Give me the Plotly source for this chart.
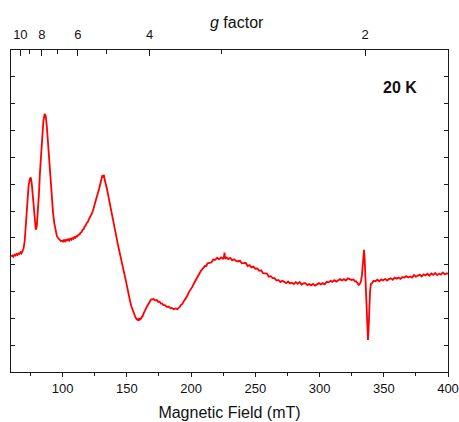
import plotly.graph_objects as go

# Magnetic field (mT) and EPR signal (arb. units, 0-12 scale)
field = [60.0, 60.8, 61.6, 62.4, 63.2, 64.0, 64.8, 65.6, 66.4, 67.2,
         68.0, 68.8, 69.6, 70.5, 71.5, 72.5, 73.5, 74.5, 75.2, 76.0,
         76.8, 77.6, 78.4, 79.1, 79.9, 80.7, 81.5, 82.3, 83.0, 84.0,
         85.0, 86.0, 86.8, 87.7, 88.5, 89.5, 90.5, 91.5, 92.5, 93.5,
         94.5, 95.5, 96.3, 97.1, 97.9, 98.7, 99.5, 100.3, 101.1, 101.9,
         102.7, 103.5, 104.3, 105.1, 105.9, 106.7, 107.5, 108.3, 109.1, 109.9,
         110.7, 111.5, 112.3, 113.1, 113.9, 114.7, 115.5, 116.3, 117.1, 117.9,
         118.7, 119.5, 120.3, 121.1, 121.9, 122.7, 123.5, 124.3, 125.1, 125.9,
         126.7, 127.6, 128.5, 129.3, 130.0, 130.8, 131.5, 132.1, 132.6, 133.2,
         133.8, 134.6, 135.4, 136.2, 137.0, 137.8, 138.5, 139.7, 140.9, 142.0,
         143.0, 144.0, 145.0, 146.0, 147.1, 148.0, 149.0, 150.0, 150.8, 151.7,
         152.6, 153.5, 154.5, 155.5, 156.5, 157.2, 157.8, 158.3, 158.8, 159.4,
         160.0, 160.5, 161.0, 161.6, 162.2, 163.0, 163.8, 164.8, 165.9, 166.8,
         167.8, 168.8, 169.8, 170.8, 172.0, 173.2, 174.5, 175.5, 176.5, 177.5,
         178.4, 179.6, 181.0, 182.4, 183.8, 185.0, 186.5, 187.9, 189.3, 190.3,
         191.3, 192.2, 193.2, 194.2, 195.2, 196.2, 197.1, 198.0, 199.0, 200.0,
         201.0, 202.0, 203.0, 204.0, 204.9, 205.8, 206.8, 207.8, 208.8, 209.8,
         210.8, 211.8, 212.8, 214.3, 215.8, 217.3, 218.8, 220.3, 221.8, 223.3,
         224.8, 225.6, 226.0, 226.5, 227.6, 229.0, 230.5, 232.0, 233.5, 235.0,
         236.5, 238.0, 239.5, 241.0, 242.5, 244.0, 245.5, 247.0, 248.5, 250.0,
         251.5, 253.0, 254.5, 256.0, 257.5, 259.0, 260.5, 262.0, 263.5, 265.0,
         266.5, 268.0, 269.5, 271.0, 272.5, 274.0, 275.5, 277.0, 278.5, 280.0,
         281.5, 283.0, 284.5, 286.0, 287.5, 289.0, 290.5, 292.0, 293.5, 295.0,
         296.5, 298.0, 299.5, 301.0, 302.5, 304.0, 305.5, 307.0, 308.5, 310.0,
         311.5, 313.0, 314.5, 316.0, 317.5, 319.0, 320.5, 322.0, 323.5, 325.0,
         326.5, 327.5, 328.5, 329.5, 330.5, 331.5, 332.3, 333.0, 333.8, 334.6,
         335.1, 335.6, 336.2, 336.8, 337.3, 337.7, 338.2, 338.7, 339.3, 340.0,
         341.0, 342.0, 343.5, 345.0, 346.5, 348.0, 349.5, 351.0, 352.5, 354.0,
         355.5, 357.0, 358.5, 360.0, 361.5, 363.0, 364.5, 366.0, 367.5, 369.0,
         370.5, 372.0, 373.5, 375.0, 376.5, 378.0, 379.5, 381.0, 382.5, 384.0,
         385.5, 387.0, 388.5, 390.0, 391.5, 393.0, 394.5, 396.0, 397.5, 399.0,
         400.0]
signal = [4.30, 4.34, 4.30, 4.37, 4.34, 4.40, 4.36, 4.42, 4.40, 4.46,
          4.42, 4.52, 4.60, 4.90, 5.60, 6.40, 6.95, 7.20, 7.25, 7.00,
          6.55, 5.90, 5.45, 5.30, 5.45, 5.90, 6.60, 7.40, 8.00, 8.80,
          9.35, 9.62, 9.55, 9.15, 8.60, 7.90, 7.15, 6.50, 5.95, 5.55,
          5.25, 5.07, 5.00, 4.95, 4.93, 4.88, 4.90, 4.86, 4.92, 4.87,
          4.93, 4.90, 4.95, 4.90, 4.97, 4.93, 4.99, 4.96, 5.03, 5.00,
          5.06, 5.05, 5.12, 5.12, 5.19, 5.21, 5.30, 5.32, 5.42, 5.45,
          5.55, 5.58, 5.68, 5.74, 5.84, 5.90, 6.00, 6.12, 6.24, 6.37,
          6.55, 6.70, 6.85, 7.05, 7.15, 7.30, 7.28, 7.35, 7.20, 7.10,
          6.95, 6.80, 6.60, 6.42, 6.20, 6.00, 5.80, 5.55, 5.25, 5.00,
          4.75, 4.55, 4.30, 4.12, 3.90, 3.70, 3.45, 3.22, 3.00, 2.82,
          2.62, 2.45, 2.30, 2.18, 2.06, 2.00, 1.94, 1.99, 1.91, 1.97,
          1.93, 2.01, 1.97, 2.06, 2.07, 2.18, 2.24, 2.36, 2.46, 2.56,
          2.62, 2.70, 2.70, 2.72, 2.67, 2.68, 2.61, 2.62, 2.55, 2.55,
          2.49, 2.49, 2.43, 2.44, 2.38, 2.39, 2.34, 2.37, 2.34, 2.38,
          2.43, 2.50, 2.54, 2.63, 2.69, 2.78, 2.84, 2.95, 3.02, 3.12,
          3.18, 3.28, 3.38, 3.46, 3.55, 3.62, 3.70, 3.78, 3.84, 3.90,
          3.95, 3.95, 4.05, 4.07, 4.08, 4.19, 4.18, 4.26, 4.20, 4.27,
          4.22, 4.30, 4.45, 4.22, 4.27, 4.21, 4.25, 4.16, 4.20, 4.14,
          4.12, 4.15, 4.05, 4.06, 4.07, 3.95, 3.98, 3.90, 3.93, 3.85,
          3.86, 3.77, 3.79, 3.68, 3.67, 3.67, 3.55, 3.57, 3.50, 3.50,
          3.41, 3.43, 3.35, 3.40, 3.36, 3.31, 3.37, 3.30, 3.33, 3.28,
          3.35, 3.29, 3.35, 3.26, 3.30, 3.31, 3.24, 3.28, 3.23, 3.28,
          3.22, 3.28, 3.31, 3.26, 3.31, 3.27, 3.36, 3.34, 3.40, 3.36,
          3.42, 3.37, 3.42, 3.46, 3.41, 3.46, 3.41, 3.49, 3.46, 3.43,
          3.45, 3.38, 3.38, 3.28, 3.24, 3.30, 3.40, 3.60, 4.10, 4.55,
          4.25, 3.50, 2.70, 1.90, 1.35, 1.19, 1.60, 2.40, 3.00, 3.28,
          3.32, 3.40, 3.38, 3.44, 3.38, 3.45, 3.41, 3.47, 3.41, 3.46,
          3.49, 3.44, 3.52, 3.48, 3.52, 3.47, 3.54, 3.52, 3.57, 3.52,
          3.56, 3.52, 3.61, 3.55, 3.59, 3.63, 3.56, 3.64, 3.60, 3.66,
          3.59, 3.67, 3.62, 3.69, 3.61, 3.66, 3.63, 3.71, 3.64, 3.68,
          3.65]

# Bottom axis ticks
field_ticks = [100, 150, 200, 250, 300, 350, 400]
field_minor = [75, 125, 175, 225, 275, 325, 375]

# Top g-factor axis
g_major = [10, 8, 6, 4, 2]
g_minor = [9, 7, 5, 3]
freq_ghz = 9.39
hv_over_mub = 71.4477 * freq_ghz  # mT, B = hv/(g*muB)

x_range = [59.8, 400]

fig = go.Figure()
fig.add_trace(go.Scatter(x=field, y=signal, mode="lines",
                         line=dict(color="#ff0000", width=1.8), showlegend=False,
                         hoverinfo="skip"))
fig.add_trace(go.Scatter(x=[None], y=[None], xaxis="x2", showlegend=False, hoverinfo="skip"))

font_family = "Liberation Sans, Arial, sans-serif"
axis_color = "#1a1a1a"

fig.update_layout(
    width=459, height=422,
    margin=dict(l=11, r=11, t=50, b=50),
    paper_bgcolor="white", plot_bgcolor="white",
    font=dict(family=font_family, size=13, color="#111111"),
    xaxis=dict(range=x_range, showgrid=False, zeroline=False, automargin=False,
               showline=True, linecolor=axis_color, linewidth=1.3,
               ticks="outside", ticklen=4, tickwidth=1.2, tickcolor=axis_color,
               tickvals=field_ticks, ticktext=[str(v) for v in field_ticks],
               tickfont=dict(size=13),
               minor=dict(tickvals=field_minor, ticks="outside", ticklen=3,
                          tickwidth=1.2, tickcolor=axis_color),
               title=dict(text="Magnetic Field (mT)", font=dict(size=16), standoff=12)),
    xaxis2=dict(range=x_range, overlaying="x", side="top", showgrid=False, zeroline=False,
                automargin=False,
                showline=True, linecolor=axis_color, linewidth=1.3,
                ticks="inside", ticklen=6, tickwidth=1.2, tickcolor=axis_color,
                ticklabelstandoff=5,
                tickvals=[hv_over_mub / g for g in g_major],
                ticktext=[str(g) for g in g_major], tickfont=dict(size=13),
                minor=dict(tickvals=[hv_over_mub / g for g in g_minor], ticks="inside",
                           ticklen=4, tickwidth=1.2, tickcolor=axis_color)),
    yaxis=dict(range=[0, 12], dtick=1, showgrid=False, zeroline=False, automargin=False,
               showline=True, linecolor=axis_color, linewidth=1.3, mirror="ticks",
               ticks="inside", ticklen=4, tickwidth=1.2, tickcolor=axis_color,
               showticklabels=False),
    annotations=[
        dict(text="<i>g</i> factor", xref="paper", yref="paper",
             x=(237 - 11) / 437, y=1 + (50 - 22) / 322, showarrow=False,
             font=dict(size=16), xanchor="center", yanchor="middle"),
        dict(text="<b>20 K</b>", xref="paper", yref="paper",
             x=(400 - 11) / 437, y=(372 - 87) / 322, showarrow=False,
             font=dict(size=16), xanchor="center", yanchor="middle"),
    ],
)

fig.write_html("out.html", config={"displayModeBar": False},
               post_script="document.body.style.margin='0px';document.body.style.overflow='hidden';")
